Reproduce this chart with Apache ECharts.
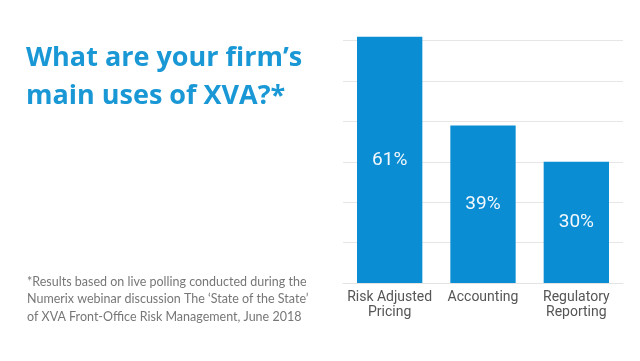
<!DOCTYPE html>
<html>
<head>
<meta charset="utf-8">
<script src="https://cdn.jsdelivr.net/npm/echarts@6/dist/echarts.min.js"></script>
<style>
html,body{margin:0;padding:0;background:#fff;}
#c{width:640px;height:361px;}
</style>
</head>
<body>
<div id="c"></div>
<script>
const categories = ['Risk Adjusted\nPricing', 'Accounting', 'Regulatory\nReporting'];
const values = [61, 39, 30];
const titleText = 'What are your firm’s\nmain uses of XVA?*';
const noteText = '*Results based on live polling conducted during the\nNumerix webinar discussion The ‘State of the State’\nof XVA Front-Office Risk Management, June 2018';

const chart = echarts.init(document.getElementById('c'), null, {renderer: 'canvas'});
chart.setOption({
  animation: false,
  backgroundColor: '#ffffff',
  title: [
    {
      text: titleText,
      left: 21, top: 35,
      textStyle: {fontFamily: 'Open Sans', fontWeight: 'bold', fontSize: 27, lineHeight: 37.5, color: '#1a98d5'}
    },
    {
      text: noteText,
      left: 22, top: 268,
      textStyle: {fontFamily: 'Lato', fontWeight: 'normal', fontSize: 12.5, lineHeight: 17.5, color: '#777777'}
    }
  ],
  grid: {left: 343, right: 17, top: 40.7, bottom: 78},
  xAxis: {
    type: 'category',
    data: categories,
    axisLine: {show: true, lineStyle: {color: '#e3e3e3', width: 1}},
    axisTick: {show: false},
    axisLabel: {color: '#555555', fontFamily: 'Roboto', fontSize: 14, lineHeight: 15, margin: 7, interval: 0}
  },
  yAxis: {
    type: 'value',
    min: 0, max: 60, interval: 10,
    axisLine: {show: false},
    axisTick: {show: false},
    axisLabel: {show: false},
    splitLine: {lineStyle: {color: '#e6e6e6', width: 1}}
  },
  series: [{
    type: 'bar',
    data: values,
    clip: false,
    barCategoryGap: '30%',
    itemStyle: {color: '#0b8dd3'},
    label: {
      show: true, position: 'inside',
      formatter: '{c}%',
      color: '#f2f8fc', fontFamily: 'Roboto', fontSize: 19
    }
  }]
});
</script>
</body>
</html>
